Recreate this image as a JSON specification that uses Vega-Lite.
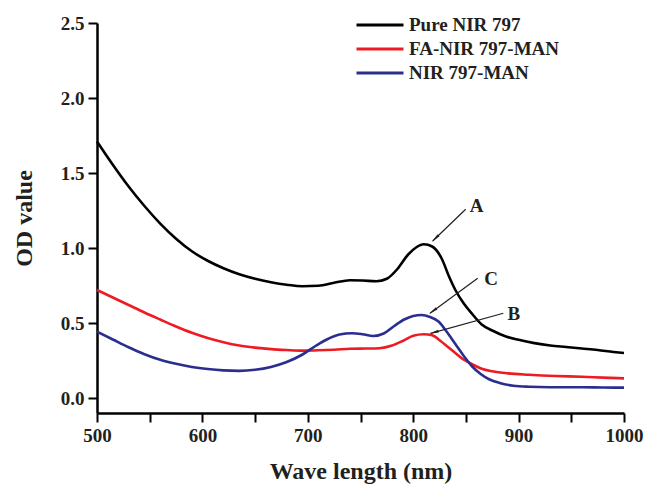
{
  "$schema": "https://vega.github.io/schema/vega-lite/v6.json",
  "width": 527,
  "height": 390,
  "autosize": {"type": "none"},
  "padding": {"left": 97, "top": 23, "right": 31, "bottom": 73},
  "background": "white",
  "config": {
    "view": {"stroke": null},
    "font": "Liberation Serif"
  },
  "datasets": {
    "spectra": [
      {"series": "Pure NIR 797", "wl": 500, "od": 1.71},
      {"series": "Pure NIR 797", "wl": 515, "od": 1.555},
      {"series": "Pure NIR 797", "wl": 530, "od": 1.41},
      {"series": "Pure NIR 797", "wl": 545, "od": 1.28},
      {"series": "Pure NIR 797", "wl": 560, "od": 1.163},
      {"series": "Pure NIR 797", "wl": 575, "od": 1.062},
      {"series": "Pure NIR 797", "wl": 590, "od": 0.978},
      {"series": "Pure NIR 797", "wl": 605, "od": 0.915},
      {"series": "Pure NIR 797", "wl": 620, "od": 0.865},
      {"series": "Pure NIR 797", "wl": 635, "od": 0.825},
      {"series": "Pure NIR 797", "wl": 650, "od": 0.795},
      {"series": "Pure NIR 797", "wl": 665, "od": 0.772},
      {"series": "Pure NIR 797", "wl": 680, "od": 0.755},
      {"series": "Pure NIR 797", "wl": 695, "od": 0.745},
      {"series": "Pure NIR 797", "wl": 710, "od": 0.748},
      {"series": "Pure NIR 797", "wl": 725, "od": 0.768},
      {"series": "Pure NIR 797", "wl": 740, "od": 0.785},
      {"series": "Pure NIR 797", "wl": 752, "od": 0.783},
      {"series": "Pure NIR 797", "wl": 765, "od": 0.778},
      {"series": "Pure NIR 797", "wl": 775, "od": 0.795},
      {"series": "Pure NIR 797", "wl": 785, "od": 0.86},
      {"series": "Pure NIR 797", "wl": 795, "od": 0.955},
      {"series": "Pure NIR 797", "wl": 803, "od": 1.005},
      {"series": "Pure NIR 797", "wl": 810, "od": 1.025},
      {"series": "Pure NIR 797", "wl": 818, "od": 1.01},
      {"series": "Pure NIR 797", "wl": 827, "od": 0.93},
      {"series": "Pure NIR 797", "wl": 834, "od": 0.81},
      {"series": "Pure NIR 797", "wl": 840, "od": 0.72},
      {"series": "Pure NIR 797", "wl": 848, "od": 0.63},
      {"series": "Pure NIR 797", "wl": 856, "od": 0.56},
      {"series": "Pure NIR 797", "wl": 865, "od": 0.49},
      {"series": "Pure NIR 797", "wl": 875, "od": 0.45},
      {"series": "Pure NIR 797", "wl": 888, "od": 0.41},
      {"series": "Pure NIR 797", "wl": 900, "od": 0.388},
      {"series": "Pure NIR 797", "wl": 915, "od": 0.366},
      {"series": "Pure NIR 797", "wl": 930, "od": 0.35},
      {"series": "Pure NIR 797", "wl": 945, "od": 0.34},
      {"series": "Pure NIR 797", "wl": 960, "od": 0.33},
      {"series": "Pure NIR 797", "wl": 975, "od": 0.32},
      {"series": "Pure NIR 797", "wl": 990, "od": 0.307},
      {"series": "Pure NIR 797", "wl": 1000, "od": 0.30},
      {"series": "FA-NIR 797-MAN", "wl": 500, "od": 0.72},
      {"series": "FA-NIR 797-MAN", "wl": 515, "od": 0.67},
      {"series": "FA-NIR 797-MAN", "wl": 530, "od": 0.62},
      {"series": "FA-NIR 797-MAN", "wl": 545, "od": 0.57},
      {"series": "FA-NIR 797-MAN", "wl": 560, "od": 0.523},
      {"series": "FA-NIR 797-MAN", "wl": 575, "od": 0.477},
      {"series": "FA-NIR 797-MAN", "wl": 590, "od": 0.435},
      {"series": "FA-NIR 797-MAN", "wl": 605, "od": 0.40},
      {"series": "FA-NIR 797-MAN", "wl": 620, "od": 0.372},
      {"series": "FA-NIR 797-MAN", "wl": 635, "od": 0.35},
      {"series": "FA-NIR 797-MAN", "wl": 650, "od": 0.336},
      {"series": "FA-NIR 797-MAN", "wl": 665, "od": 0.326},
      {"series": "FA-NIR 797-MAN", "wl": 680, "od": 0.32},
      {"series": "FA-NIR 797-MAN", "wl": 695, "od": 0.316},
      {"series": "FA-NIR 797-MAN", "wl": 710, "od": 0.318},
      {"series": "FA-NIR 797-MAN", "wl": 725, "od": 0.322},
      {"series": "FA-NIR 797-MAN", "wl": 740, "od": 0.328},
      {"series": "FA-NIR 797-MAN", "wl": 755, "od": 0.33},
      {"series": "FA-NIR 797-MAN", "wl": 768, "od": 0.332},
      {"series": "FA-NIR 797-MAN", "wl": 780, "od": 0.35},
      {"series": "FA-NIR 797-MAN", "wl": 790, "od": 0.38},
      {"series": "FA-NIR 797-MAN", "wl": 800, "od": 0.415},
      {"series": "FA-NIR 797-MAN", "wl": 810, "od": 0.425},
      {"series": "FA-NIR 797-MAN", "wl": 818, "od": 0.418},
      {"series": "FA-NIR 797-MAN", "wl": 826, "od": 0.38},
      {"series": "FA-NIR 797-MAN", "wl": 833, "od": 0.34},
      {"series": "FA-NIR 797-MAN", "wl": 840, "od": 0.30},
      {"series": "FA-NIR 797-MAN", "wl": 848, "od": 0.255},
      {"series": "FA-NIR 797-MAN", "wl": 856, "od": 0.225},
      {"series": "FA-NIR 797-MAN", "wl": 865, "od": 0.195},
      {"series": "FA-NIR 797-MAN", "wl": 875, "od": 0.178},
      {"series": "FA-NIR 797-MAN", "wl": 890, "od": 0.164},
      {"series": "FA-NIR 797-MAN", "wl": 910, "od": 0.155},
      {"series": "FA-NIR 797-MAN", "wl": 935, "od": 0.147},
      {"series": "FA-NIR 797-MAN", "wl": 960, "od": 0.142},
      {"series": "FA-NIR 797-MAN", "wl": 980, "od": 0.136},
      {"series": "FA-NIR 797-MAN", "wl": 1000, "od": 0.131},
      {"series": "NIR 797-MAN", "wl": 500, "od": 0.442},
      {"series": "NIR 797-MAN", "wl": 515, "od": 0.39},
      {"series": "NIR 797-MAN", "wl": 530, "od": 0.338},
      {"series": "NIR 797-MAN", "wl": 545, "od": 0.292},
      {"series": "NIR 797-MAN", "wl": 560, "od": 0.255},
      {"series": "NIR 797-MAN", "wl": 575, "od": 0.228},
      {"series": "NIR 797-MAN", "wl": 590, "od": 0.207},
      {"series": "NIR 797-MAN", "wl": 605, "od": 0.193},
      {"series": "NIR 797-MAN", "wl": 620, "od": 0.184},
      {"series": "NIR 797-MAN", "wl": 635, "od": 0.181},
      {"series": "NIR 797-MAN", "wl": 650, "od": 0.188},
      {"series": "NIR 797-MAN", "wl": 665, "od": 0.207},
      {"series": "NIR 797-MAN", "wl": 680, "od": 0.24},
      {"series": "NIR 797-MAN", "wl": 695, "od": 0.29},
      {"series": "NIR 797-MAN", "wl": 708, "od": 0.35},
      {"series": "NIR 797-MAN", "wl": 718, "od": 0.39},
      {"series": "NIR 797-MAN", "wl": 730, "od": 0.423},
      {"series": "NIR 797-MAN", "wl": 742, "od": 0.432},
      {"series": "NIR 797-MAN", "wl": 752, "od": 0.425},
      {"series": "NIR 797-MAN", "wl": 762, "od": 0.413},
      {"series": "NIR 797-MAN", "wl": 772, "od": 0.43},
      {"series": "NIR 797-MAN", "wl": 782, "od": 0.48},
      {"series": "NIR 797-MAN", "wl": 792, "od": 0.525},
      {"series": "NIR 797-MAN", "wl": 800, "od": 0.547},
      {"series": "NIR 797-MAN", "wl": 808, "od": 0.553},
      {"series": "NIR 797-MAN", "wl": 816, "od": 0.54},
      {"series": "NIR 797-MAN", "wl": 824, "od": 0.51},
      {"series": "NIR 797-MAN", "wl": 832, "od": 0.44},
      {"series": "NIR 797-MAN", "wl": 840, "od": 0.36},
      {"series": "NIR 797-MAN", "wl": 848, "od": 0.28},
      {"series": "NIR 797-MAN", "wl": 856, "od": 0.21},
      {"series": "NIR 797-MAN", "wl": 864, "od": 0.16},
      {"series": "NIR 797-MAN", "wl": 872, "od": 0.125},
      {"series": "NIR 797-MAN", "wl": 882, "od": 0.10},
      {"series": "NIR 797-MAN", "wl": 895, "od": 0.082},
      {"series": "NIR 797-MAN", "wl": 910, "od": 0.075},
      {"series": "NIR 797-MAN", "wl": 930, "od": 0.072},
      {"series": "NIR 797-MAN", "wl": 960, "od": 0.072},
      {"series": "NIR 797-MAN", "wl": 980, "od": 0.07},
      {"series": "NIR 797-MAN", "wl": 1000, "od": 0.069}
    ],
    "notes": [
      {"label": "A", "lx": 860.2, "ly": 1.28, "x1": 849.8, "y1": 1.258, "x2": 818.5, "y2": 1.047, "hx": 821.9, "hy": 1.07, "ang": 226},
      {"label": "C", "lx": 873.8, "ly": 0.791, "x1": 861.2, "y1": 0.798, "x2": 816, "y2": 0.565, "hx": 819.8, "hy": 0.585, "ang": 234},
      {"label": "B", "lx": 895.6, "ly": 0.56, "x1": 885.5, "y1": 0.565, "x2": 816.5, "y2": 0.431, "hx": 821.1, "hy": 0.44, "ang": 255}
    ]
  },
  "layer": [
    {
      "data": {"name": "spectra"},
      "mark": {"type": "line", "strokeWidth": 2.6, "interpolate": "monotone"},
      "encoding": {
        "x": {
          "field": "wl", "type": "quantitative",
          "scale": {"domain": [500, 1000], "nice": false, "zero": false},
          "axis": {
            "title": "Wave length (nm)",
            "values": [500, 550, 600, 650, 700, 750, 800, 850, 900, 950, 1000],
            "labelExpr": "datum.value % 100 === 0 ? datum.label : ''",
            "format": "d",
            "grid": false,
            "domainColor": "#000", "domainWidth": 2.5,
            "tickColor": "#000", "tickWidth": 2, "tickSize": 9,
            "encode": {"ticks": {"update": {"y2": {"signal": "datum.value % 100 === 0 ? 9 : 6"}}}},
            "labelFont": "Liberation Serif", "labelFontWeight": "bold", "labelFontSize": 19, "labelColor": "#231f20",
            "labelPadding": 4,
            "labelFlush": false,
            "titleFont": "Liberation Serif", "titleFontWeight": "bold", "titleFontSize": 24, "titleColor": "#231f20",
            "titlePadding": 14
          }
        },
        "y": {
          "field": "od", "type": "quantitative",
          "scale": {"domain": [-0.1, 2.5], "nice": false, "zero": false},
          "axis": {
            "title": "OD value",
            "values": [0, 0.25, 0.5, 0.75, 1, 1.25, 1.5, 1.75, 2, 2.25, 2.5],
            "labelExpr": "round(datum.value * 100) % 50 === 0 ? format(datum.value, '.1f') : ''",
            "grid": false,
            "domainColor": "#000", "domainWidth": 2.5,
            "tickColor": "#000", "tickWidth": 2, "tickSize": 9,
            "encode": {"ticks": {"update": {"x2": {"signal": "round(datum.value * 100) % 50 === 0 ? -9 : -6"}}}},
            "labelFont": "Liberation Serif", "labelFontWeight": "bold", "labelFontSize": 19, "labelColor": "#231f20",
            "labelPadding": 4,
            "labelFlush": false,
            "titleFont": "Liberation Serif", "titleFontWeight": "bold", "titleFontSize": 24, "titleColor": "#231f20",
            "titlePadding": 24
          }
        },
        "color": {
          "field": "series", "type": "nominal",
          "scale": {"domain": ["Pure NIR 797", "FA-NIR 797-MAN", "NIR 797-MAN"], "range": ["#000000", "#ed1c24", "#2b2e8f"]},
          "legend": {
            "title": null,
            "orient": "none",
            "legendX": 258,
            "legendY": -10,
            "padding": 0,
            "symbolType": "stroke",
            "symbolSize": 2209,
            "symbolStrokeWidth": 3,
            "clipHeight": 24,
            "labelFont": "Liberation Serif", "labelFontWeight": "bold", "labelFontSize": 19, "labelColor": "#231f20",
            "labelOffset": 4,
            "rowPadding": 0
          }
        }
      }
    },
    {
      "data": {"name": "notes"},
      "mark": {"type": "rule", "color": "#231f20", "strokeWidth": 1.2},
      "encoding": {
        "x": {"field": "x1", "type": "quantitative"},
        "y": {"field": "y1", "type": "quantitative"},
        "x2": {"field": "x2"},
        "y2": {"field": "y2"}
      }
    },
    {
      "data": {"name": "notes"},
      "mark": {"type": "point", "shape": "wedge", "filled": true, "color": "#231f20", "size": 120, "opacity": 1},
      "encoding": {
        "x": {"field": "hx", "type": "quantitative"},
        "y": {"field": "hy", "type": "quantitative"},
        "angle": {"field": "ang", "type": "quantitative", "scale": null}
      }
    },
    {
      "data": {"name": "notes"},
      "mark": {"type": "text", "font": "Liberation Serif", "fontWeight": "bold", "fontSize": 19, "color": "#231f20", "align": "center", "baseline": "middle"},
      "encoding": {
        "x": {"field": "lx", "type": "quantitative"},
        "y": {"field": "ly", "type": "quantitative"},
        "text": {"field": "label"}
      }
    }
  ]
}
